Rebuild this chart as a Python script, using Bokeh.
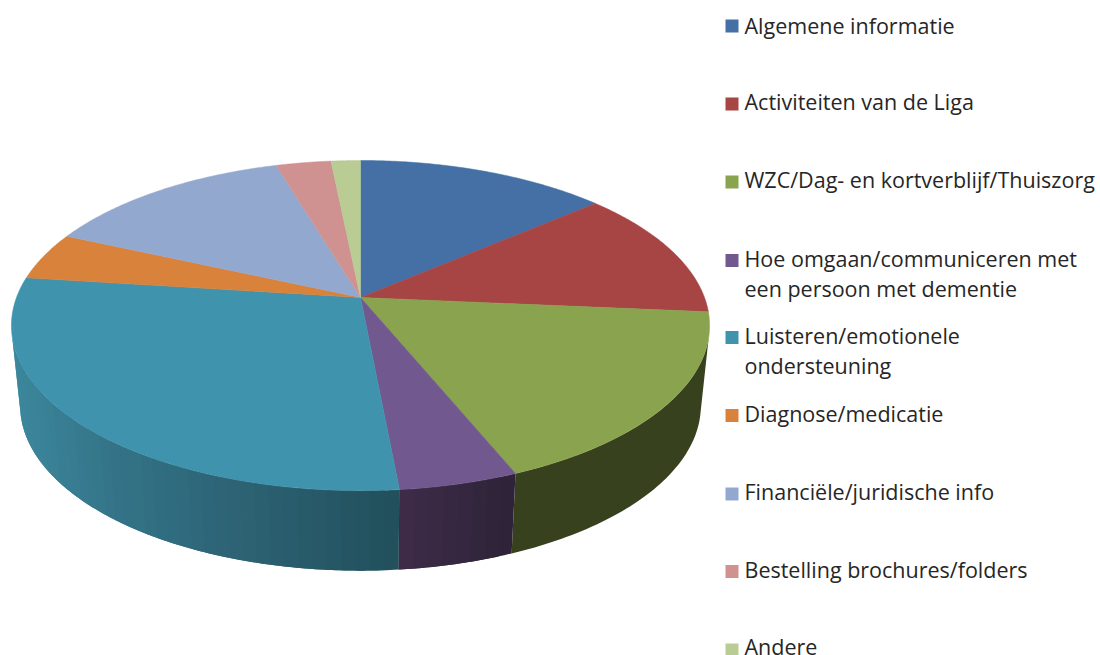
import numpy as np
from bokeh.plotting import figure
from bokeh.models import ColumnDataSource, Range1d
from bokeh.core.properties import value
from bokeh.embed import file_html
from bokeh.resources import INLINE

# ---- data (share of each category) ----
categories = ["Algemene informatie", "Activiteiten van de Liga", "WZC/Dag- en kortverblijf/Thuiszorg",
              "Hoe omgaan/communiceren met een persoon met dementie",
              "Luisteren/emotionele ondersteuning", "Diagnose/medicatie",
              "Financiële/juridische info", "Bestelling brochures/folders", "Andere"]
shares = [13.7, 12.7, 17.4, 4.7, 28.5, 4.7, 13.7, 3.0, 1.6]

# ---- style ----
colors = ["#4470A5", "#A64543", "#89A34E", "#71588F", "#3F93AD", "#D9823C", "#93A8CF", "#CF9291", "#B9CC94"]
wall_stops = {
    2: [(390, "#38411D"), (710, "#38411D")],
    3: [(398, "#3E2C48"), (512, "#2E2339")],
    4: [(11, "#3C879C"), (110, "#347488"), (210, "#2E6678"), (310, "#285A69"), (398, "#214F5C")],
}
legend_lines = [["Algemene informatie"], ["Activiteiten van de Liga"], ["WZC/Dag- en kortverblijf/Thuiszorg"],
                ["Hoe omgaan/communiceren met", "een persoon met dementie"],
                ["Luisteren/emotionele", "ondersteuning"], ["Diagnose/medicatie"],
                ["Financiële/juridische info"], ["Bestelling brochures/folders"], ["Andere"]]
legend_swatch_y = [25.5, 103.5, 181.5, 260, 337, 415, 493.5, 571, 649.5]
legend_baselines = [[32.5], [109], [187], [266, 296], [343, 373], [421], [499], [577], [654]]
legend_text_x, legend_swatch_x, swatch_size = 744, 731.5, 13
text_color = "#262626"
font = "Open Sans"
font_px = "21.5px"
text_lift = -8

# ---- geometry of the tilted disc (page pixels) ----
cx, cy = 360.0, 297.0
A, B, k = 344.0, 160.3, 0.17
depth, shrink = 80.0, 0.975
W, H = 1100, 655


def top_xy(theta):
    u, v = np.sin(theta), np.cos(theta)
    w = 1 + k * v
    return cx + A * u / w, cy - B * v / w


def bottom_xy(theta):
    x, y = top_xy(theta)
    return cx + (x - cx) * shrink, y + depth


def hex2rgb(c):
    return [int(c[i:i + 2], 16) for i in (1, 3, 5)]


def stop_color(x, stops):
    xs = [s[0] for s in stops]
    rgb = [hex2rgb(s[1]) for s in stops]
    ch = [int(round(np.interp(x, xs, [r[i] for r in rgb]))) for i in range(3)]
    return "#%02x%02x%02x" % tuple(ch)


p = figure(width=W, height=H, output_backend="svg", toolbar_location=None,
           x_range=Range1d(0, W), y_range=Range1d(H, 0),
           min_border=0, outline_line_color=None, background_fill_color="white", border_fill_color="white")
p.xaxis.visible = False
p.yaxis.visible = False
p.grid.visible = False

edges = np.concatenate([[0], np.cumsum(shares)]) / sum(shares) * 2 * np.pi

# side wall: visible from the right tangent to the left tangent; each band overlaps the next
wall_from, wall_to = np.radians(102.0), np.radians(258.0)
wx, wy, wc = [], [], []
for i in wall_stops:
    a0, a1 = max(edges[i], wall_from), min(edges[i + 1], wall_to)
    if a1 <= a0:
        continue
    flat = len({s[1] for s in wall_stops[i]}) == 1
    bands = 1 if flat else max(2, int(np.degrees(a1 - a0) / 2))
    t = np.linspace(a0, a1, bands + 1)
    for j in range(bands):
        tt = np.linspace(t[j], t[min(j + 2, bands)], 60 if flat else 8)
        x_t, y_t = top_xy(tt)
        x_b, y_b = bottom_xy(tt)
        wx.append(list(x_t) + list(x_b[::-1]))
        wy.append(list(y_t) + list(y_b[::-1]))
        wc.append(stop_color(top_xy((t[j] + t[j + 1]) / 2)[0], wall_stops[i]))
p.patches("x", "y", source=ColumnDataSource(dict(x=wx, y=wy, c=wc)),
          fill_color="c", line_color=None)

# top face
tx, ty = [], []
for i in range(len(shares)):
    t = np.linspace(edges[i], edges[i + 1], 80)
    x, y = top_xy(t)
    tx.append([cx] + list(x)); ty.append([cy] + list(y))
p.patches("x", "y", source=ColumnDataSource(dict(x=tx, y=ty, c=colors)),
          fill_color="c", line_color="c", line_width=0.5)

# legend
half = swatch_size / 2
p.quad(left=[legend_swatch_x - half] * len(colors), right=[legend_swatch_x + half] * len(colors),
       top=[y - half for y in legend_swatch_y], bottom=[y + half for y in legend_swatch_y],
       fill_color=colors, line_color=None)
lt, ly = [], []
for lines, bases in zip(legend_lines, legend_baselines):
    lt += lines; ly += bases
p.text(x=[legend_text_x] * len(lt), y=ly, text=lt, text_font=value(font), text_font_size=font_px,
       text_color=text_color, text_baseline="alphabetic", text_align="left", y_offset=text_lift)

open("out.html", "w").write(file_html(p, INLINE))
